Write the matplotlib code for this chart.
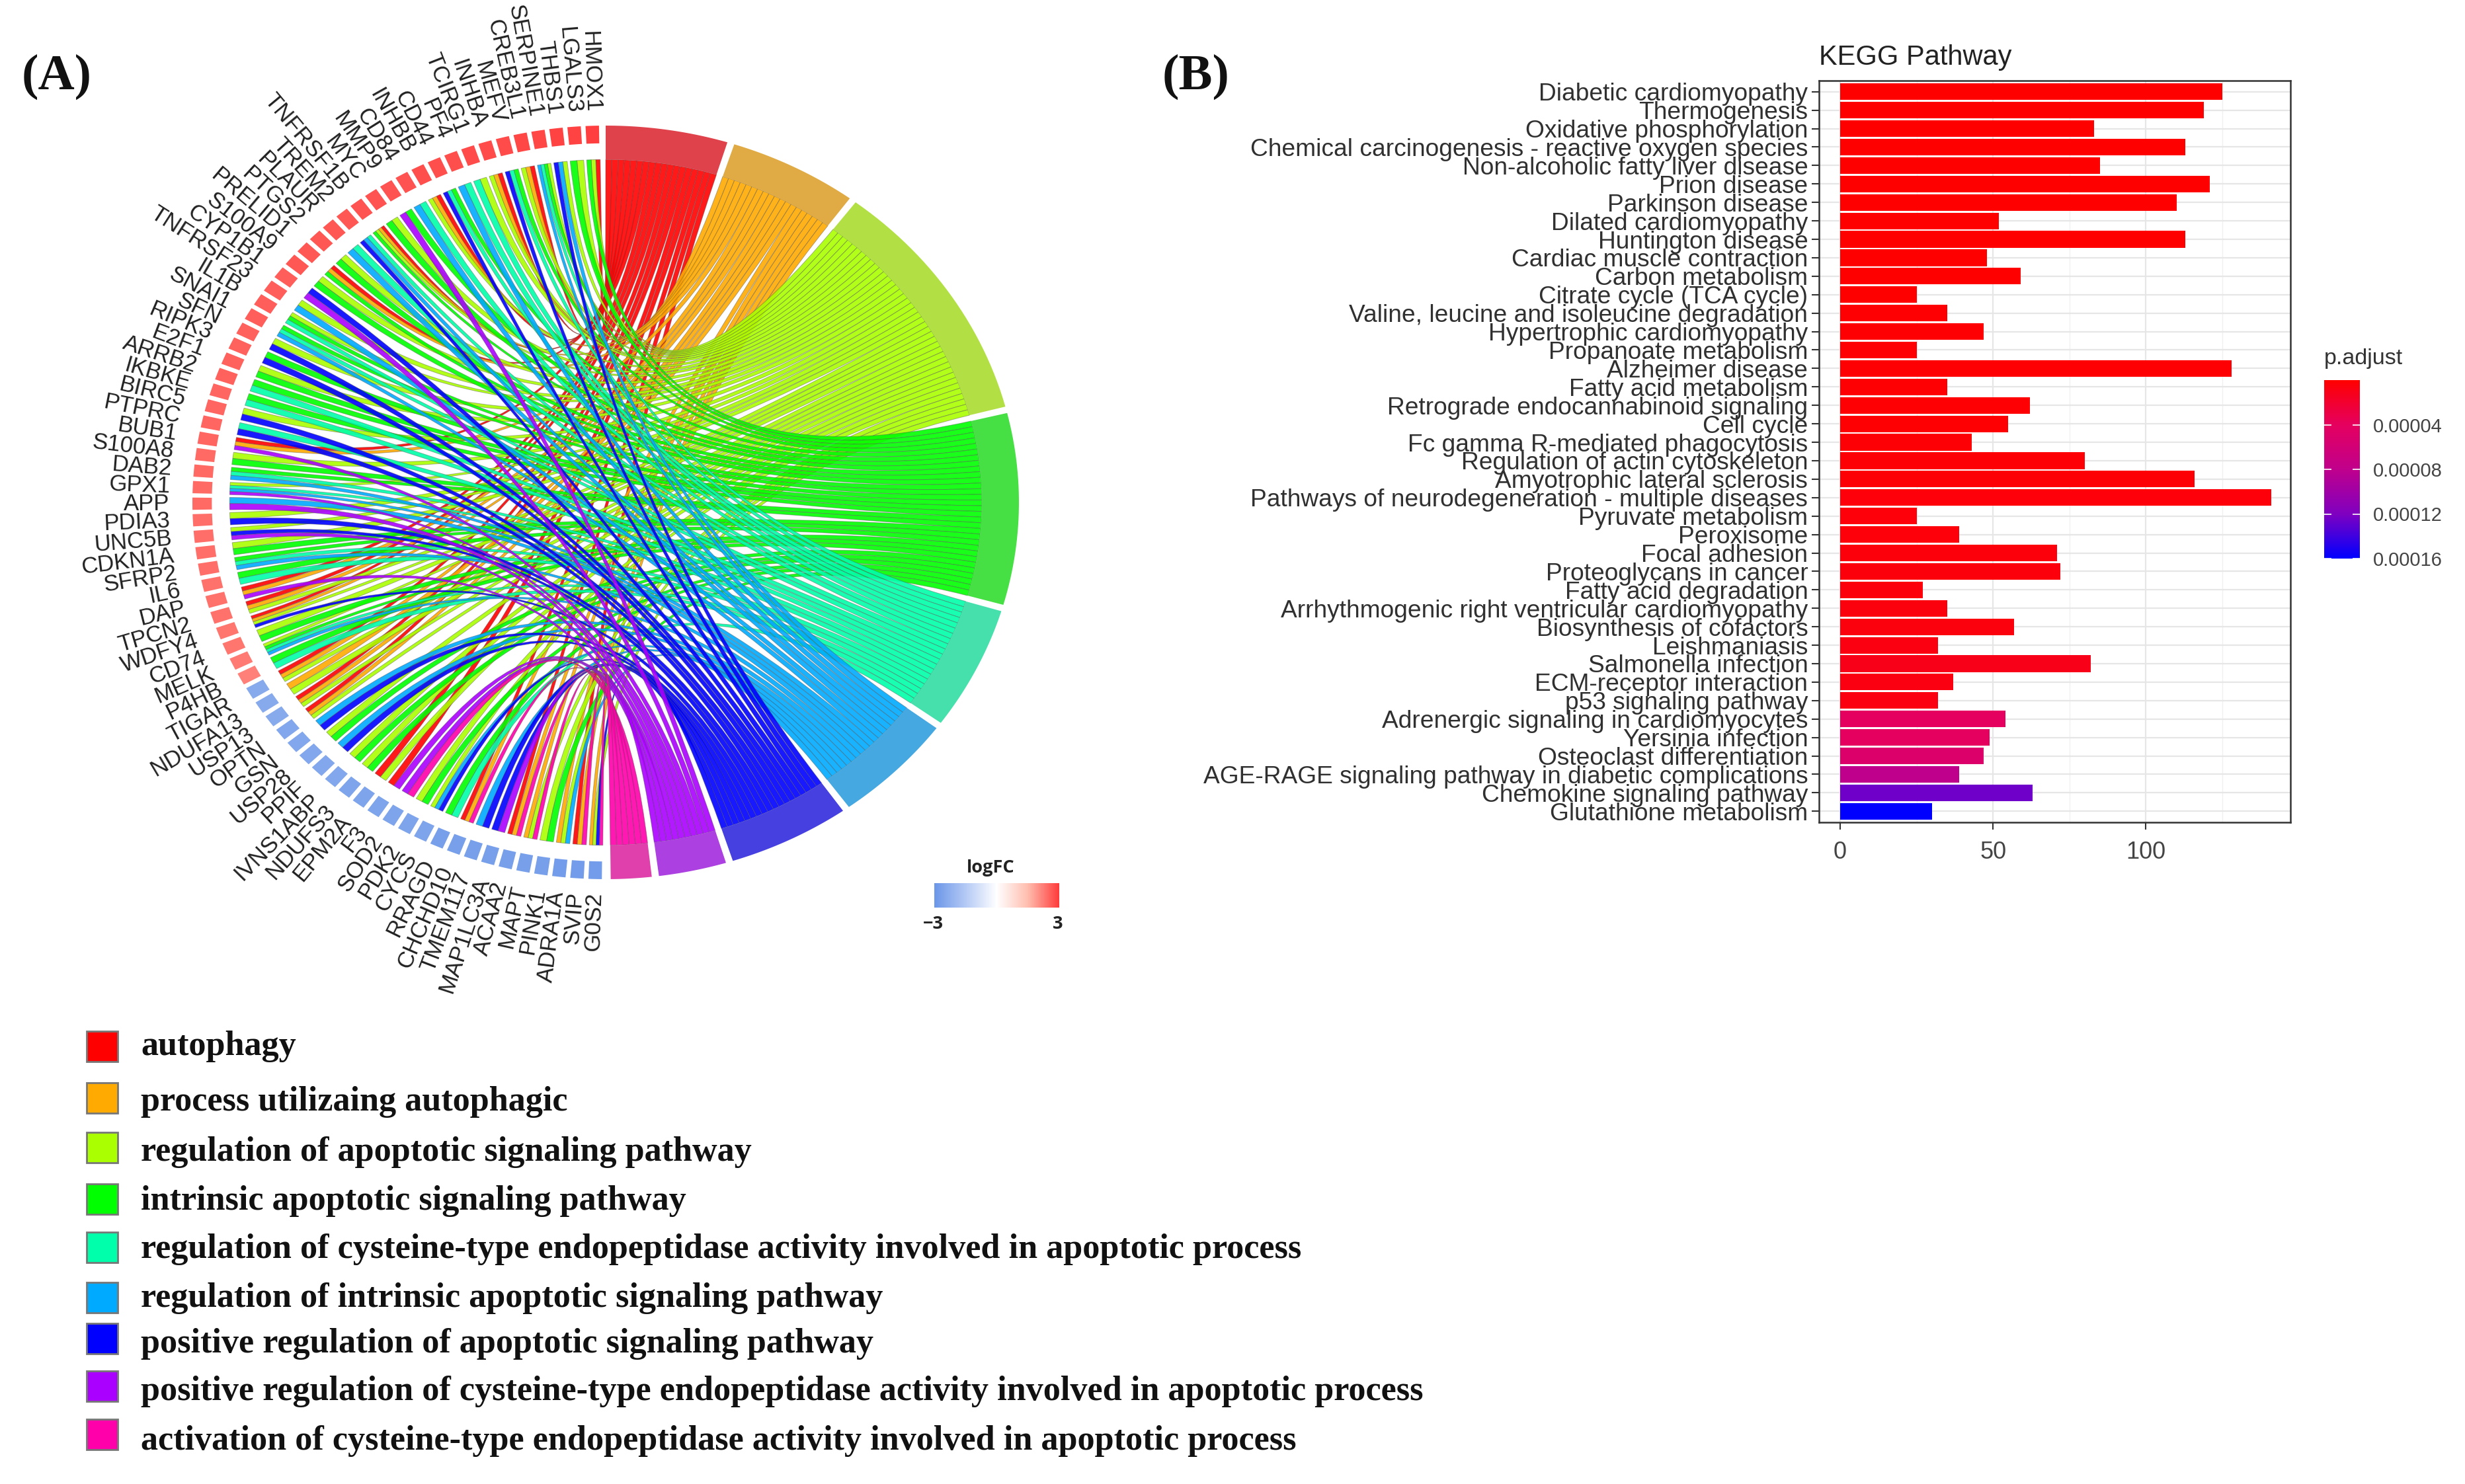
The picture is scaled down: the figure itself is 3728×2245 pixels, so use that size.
import numpy as np
import matplotlib
matplotlib.use('Agg')
import matplotlib.pyplot as plt
from matplotlib.path import Path
from matplotlib.patches import PathPatch, Rectangle
from matplotlib.colors import LinearSegmentedColormap, to_rgba
from matplotlib.cm import ScalarMappable
from matplotlib.colors import Normalize

W, H = 3728, 2245

plt.rcParams['font.family'] = ['Liberation Sans', 'DejaVu Sans']

# ---- panel A data
terms = ['autophagy', 'process utilizaing autophagic', 'regulation of apoptotic signaling pathway',
         'intrinsic apoptotic signaling pathway',
         'regulation of cysteine-type endopeptidase activity involved in apoptotic process',
         'regulation of intrinsic apoptotic signaling pathway',
         'positive regulation of apoptotic signaling pathway',
         'positive regulation of cysteine-type endopeptidase activity involved in apoptotic process',
         'activation of cysteine-type endopeptidase activity involved in apoptotic process']
term_colors = ['#FF0000', '#FFAA00', '#AAFF00', '#00FF00', '#00FFAA', '#00AAFF', '#0000FF', '#AA00FF', '#FF00AA']
ring_colors = ['#E0424C', '#E0AB45', '#B2E044', '#46E044', '#46E0AC', '#46A8E0', '#4640E0', '#AC40E0', '#E040AC']

genes = ['HMOX1', 'LGALS3', 'THBS1', 'SERPINE1', 'CREB3L1', 'MEFV', 'INHBA', 'TCIRG1', 'PF4', 'CD44',
         'INHBB', 'CD84', 'MMP9', 'MYC', 'TNFRSF1B', 'TREM2', 'PLAUR', 'PTGS2', 'PRELID1', 'S100A9',
         'CYP1B1', 'TNFRSF23', 'IL1B', 'SNAI1', 'SFN', 'RIPK3', 'E2F1', 'ARRB2', 'IKBKE', 'BIRC5',
         'PTPRC', 'BUB1', 'S100A8', 'DAB2', 'GPX1', 'APP', 'PDIA3', 'UNC5B', 'CDKN1A', 'SFRP2',
         'IL6', 'DAP', 'TPCN2', 'WDFY4', 'CD74', 'MELK', 'P4HB', 'TIGAR', 'NDUFA13', 'USP13',
         'OPTN', 'GSN', 'USP28', 'PPIF', 'IVNS1ABP', 'NDUFS3', 'EPM2A', 'F3', 'SOD2', 'PDK2',
         'CYCS', 'RRAGD', 'CHCHD10', 'TMEM117', 'MAP1LC3A', 'ACAA2', 'MAPT', 'PINK1', 'ADRA1A', 'SVIP', 'G0S2']

# which terms each gene belongs to (digits index terms), read by colour around the ring
gene_terms = ['023', '23', '256', '2345', '012', '346', '012', '24', '45', '346',
              '012', '45', '37', '23', '0123', '456', '45', '23', '013', '23',
              '67', '25', '234', '345', '26', '36', '23', '34', '34', '26',
              '46', '017', '23', '345', '2457', '57', '26', '267', '23', '345',
              '34', '017', '012', '0126', '23', '2345', '34', '012', '12', '012',
              '012', '56', '23', '56', '23', '23', '02', '07', '78', '23',
              '256', '34', '018', '56', '67', '018', '128', '23', '125', '018', '1268']

logfc = [2.95, 2.9, 2.9, 2.85, 2.85, 2.8, 2.8, 2.8, 2.75, 2.75,
         2.75, 2.7, 2.7, 2.7, 2.7, 2.65, 2.65, 2.65, 2.65, 2.65,
         2.6, 2.6, 2.6, 2.6, 2.55, 2.55, 2.55, 2.55, 2.5, 2.5,
         2.5, 2.5, 2.45, 2.45, 2.45, 2.45, 2.4, 2.4, 2.4, 2.4,
         2.35, 2.35, 2.35, 2.3, 2.3, 2.25, 2.2,
         -2.4, -2.4, -2.4, -2.5, -2.5, -2.5, -2.5, -2.5, -2.6, -2.6, -2.6,
         -2.6, -2.6, -2.6, -2.7, -2.7, -2.7, -2.7, -2.7, -2.7, -2.7, -2.8, -2.8, -2.8]

# ---- panel B data
pathways = ['Diabetic cardiomyopathy', 'Thermogenesis', 'Oxidative phosphorylation',
            'Chemical carcinogenesis - reactive oxygen species', 'Non-alcoholic fatty liver disease',
            'Prion disease', 'Parkinson disease', 'Dilated cardiomyopathy', 'Huntington disease',
            'Cardiac muscle contraction', 'Carbon metabolism', 'Citrate cycle (TCA cycle)',
            'Valine, leucine and isoleucine degradation', 'Hypertrophic cardiomyopathy',
            'Propanoate metabolism', 'Alzheimer disease', 'Fatty acid metabolism',
            'Retrograde endocannabinoid signaling', 'Cell cycle', 'Fc gamma R-mediated phagocytosis',
            'Regulation of actin cytoskeleton', 'Amyotrophic lateral sclerosis',
            'Pathways of neurodegeneration - multiple diseases', 'Pyruvate metabolism', 'Peroxisome',
            'Focal adhesion', 'Proteoglycans in cancer', 'Fatty acid degradation',
            'Arrhythmogenic right ventricular cardiomyopathy', 'Biosynthesis of cofactors', 'Leishmaniasis',
            'Salmonella infection', 'ECM-receptor interaction', 'p53 signaling pathway',
            'Adrenergic signaling in cardiomyocytes', 'Yersinia infection', 'Osteoclast differentiation',
            'AGE-RAGE signaling pathway in diabetic complications', 'Chemokine signaling pathway',
            'Glutathione metabolism']
counts = [125, 119, 83, 113, 85, 121, 110, 52, 113, 48, 59, 25, 35, 47, 25, 128, 35, 62, 55, 43,
          80, 116, 141, 25, 39, 71, 72, 27, 35, 57, 32, 82, 37, 32, 54, 49, 47, 39, 63, 30]
padj = [0.000001, 0.000001, 0.000001, 0.000001, 0.000001, 0.000001, 0.000001, 0.000001, 0.000001, 0.000001,
        0.000001, 0.000001, 0.000002, 0.000002, 0.000002, 0.000002, 0.000002, 0.000002, 0.000002, 0.000003,
        0.000003, 0.000003, 0.000004, 0.000004, 0.000004, 0.000005, 0.000005, 0.000005, 0.000006, 0.000006,
        0.000007, 0.00001, 0.000007, 0.000007, 0.00004, 0.00004, 0.00005, 0.00008, 0.000125, 0.00016]

fig = plt.figure(figsize=(W / 100, H / 100), dpi=100)


def px_axes(x0, y0, x1, y1):
    return fig.add_axes([x0 / W, 1 - y1 / H, (x1 - x0) / W, (y1 - y0) / H])


# overlay for panel letters and the term legend, in image pixels
over = fig.add_axes([0, 0, 1, 1])
over.set_xlim(0, W)
over.set_ylim(H, 0)
over.axis('off')
over.text(33, 135, '(A)', family='Liberation Serif', weight='bold', fontsize=55, color='#111111')
over.text(1758, 135, '(B)', family='Liberation Serif', weight='bold', fontsize=55, color='#111111')

swatch_y = [1560, 1638, 1713, 1791, 1864, 1940, 2002, 2074, 2147]
label_y = [1583, 1667, 1743, 1817, 1890, 1964, 2033, 2105, 2180]
for name, col, sy, ly in zip(terms, term_colors, swatch_y, label_y):
    over.add_patch(Rectangle((131, sy), 47, 46, facecolor=col, edgecolor='#777777', lw=2))
    over.text(213, ly, name, family='Liberation Serif', weight='bold', fontsize=37.6,
              va='center', color='#111111')

# ---- chord diagram: the unit circle is stretched into the ellipse of the picture
cx, cy, rx, ry = 916, 760, 625, 570
ax = px_axes(cx - 1.3 * rx, cy - 1.3 * ry, cx + 1.3 * rx, cy + 1.3 * ry)
ax.set_xlim(-1.3, 1.3)
ax.set_ylim(-1.3, 1.3)
ax.axis('off')

R_IN, R_OUT, R_SQ = 0.91, 1.0, 0.953
gene_start, gene_end = 90.6, 269.8
slot = (gene_end - gene_start) / len(genes)
term_start, term_end, term_gap = 90.0, -89.3, 1.0


def arc(r, a0, a1, n=12):
    t = np.radians(np.linspace(a0, a1, n))
    return np.column_stack([r * np.cos(t), r * np.sin(t)])


def sector(r0, r1, a0, a1, **kw):
    pts = np.vstack([arc(r1, a0, a1, 30), arc(r0, a1, a0, 30)])
    ax.fill(pts[:, 0], pts[:, 1], lw=0, **kw)


sizes = [sum(str(t) in g for g in gene_terms) for t in range(len(terms))]
per_link = (term_start - term_end - term_gap * (len(terms) - 1)) / sum(sizes)

# ribbons, one term after another so the later ones lie on top
a = term_start
for t, size in enumerate(sizes):
    pos = a
    for g, members in enumerate(gene_terms):
        if str(t) not in members:
            continue
        k = members.index(str(t))
        g0 = gene_start + slot * (g + 0.09)
        w = slot * 0.82 / len(members)
        p = arc(R_IN, g0 + k * w, g0 + (k + 1) * w, 4)
        q = arc(R_IN, pos - per_link, pos, 4)
        verts = np.vstack([p, [[0, 0]], q, [[0, 0]], p[:1]])
        codes = ([Path.MOVETO] + [Path.LINETO] * 3 + [Path.CURVE3, Path.CURVE3]
                 + [Path.LINETO] * 3 + [Path.CURVE3, Path.CURVE3])
        ax.add_patch(PathPatch(Path(verts, codes), facecolor=to_rgba(term_colors[t], 0.9),
                               edgecolor=(0.33, 0.33, 0.33, 0.45), lw=0.7))
        pos -= per_link
    sector(R_IN, R_OUT, a - size * per_link, a, color=ring_colors[t])
    a -= size * per_link + term_gap

fc_cmap = LinearSegmentedColormap.from_list('fc', ['#6A96E8', '#B4C9F5', '#FFFFFF', '#FFBDAE', '#FF3B3B'])
fc_norm = Normalize(-3, 3)
for g, name in enumerate(genes):
    mid = gene_start + slot * (g + 0.5)
    sector(R_SQ, R_OUT, mid - slot * 0.37, mid + slot * 0.37, color=fc_cmap(fc_norm(logfc[g])))
    t = np.radians(mid)
    rot = np.degrees(np.arctan2(np.sin(t) * ry, np.cos(t) * rx)) - 180
    r_lab = 1.035 + 0.02 * abs(np.cos(t))
    ax.text(r_lab * np.cos(t), r_lab * np.sin(t), name, rotation=rot, rotation_mode='anchor',
            ha='right', va='center', fontsize=25, color='#222222')

# logFC colour key
cax_fc = px_axes(1413, 1336, 1602, 1373)
cb = fig.colorbar(ScalarMappable(fc_norm, fc_cmap), cax=cax_fc, orientation='horizontal')
cb.outline.set_visible(False)
cb.set_ticks([])
over.text(1498, 1313, 'logFC', family='Open Sans', weight='bold', fontsize=19.5, ha='center', va='center', color='#222222')
over.text(1411, 1398, '\u22123', family='Open Sans', weight='bold', fontsize=19.5, ha='center', va='center', color='#222222')
over.text(1600, 1398, '3', family='Open Sans', weight='bold', fontsize=19.5, ha='center', va='center', color='#222222')

# ---- bar chart
p_cmap = LinearSegmentedColormap.from_list('p', ['#FF0000', '#E5005F', '#C0008C', '#8000C0', '#0000FF'])
p_norm = Normalize(0, 0.00016)

bx = px_axes(2751, 122, 3464, 1244)
ypos = np.arange(len(pathways))
bx.barh(ypos, counts, height=0.9, color=p_cmap(p_norm(padj)), zorder=3)
bx.set_ylim(len(pathways) - 0.4, -0.6)
bx.set_xlim(-6.9, 147.3)
bx.set_yticks(ypos)
bx.set_yticklabels(pathways, fontsize=26.7, color='#303030')
bx.set_xticks([0, 50, 100])
bx.set_xticks([25, 75, 125], minor=True)
bx.tick_params(axis='x', which='major', labelsize=26, labelcolor='#444444', length=8, width=1.5, color='#333333', pad=12)
bx.tick_params(axis='x', which='minor', length=0)
bx.tick_params(axis='y', length=8, width=1.5, color='#333333', pad=4)
bx.grid(which='major', color='#E6E6E6', lw=1.6, zorder=0)
bx.grid(which='minor', axis='x', color='#F0F0F0', lw=1, zorder=0)
bx.set_axisbelow(True)
for s in bx.spines.values():
    s.set_color('#333333')
    s.set_linewidth(1.8)
over.text(2751, 98, 'KEGG Pathway', fontsize=30, va='baseline', color='#222222')

# p.adjust colour key
cax_p = px_axes(3515, 575, 3569, 845)
cb2 = fig.colorbar(ScalarMappable(p_norm, p_cmap), cax=cax_p)
cb2.outline.set_visible(False)
cax_p.invert_yaxis()
cb2.set_ticks([0.00004, 0.00008, 0.00012, 0.00016])
cb2.set_ticklabels(['0.00004', '0.00008', '0.00012', '0.00016'])
cax_p.tick_params(axis='y', direction='in', left=True, right=True, length=8, width=1.2, color='white',
                  labelsize=21, labelcolor='#444444', pad=14)
over.text(3515, 543, 'p.adjust', fontsize=24.5, va='center', color='#333333')

fig.savefig('out.png', dpi=100)
